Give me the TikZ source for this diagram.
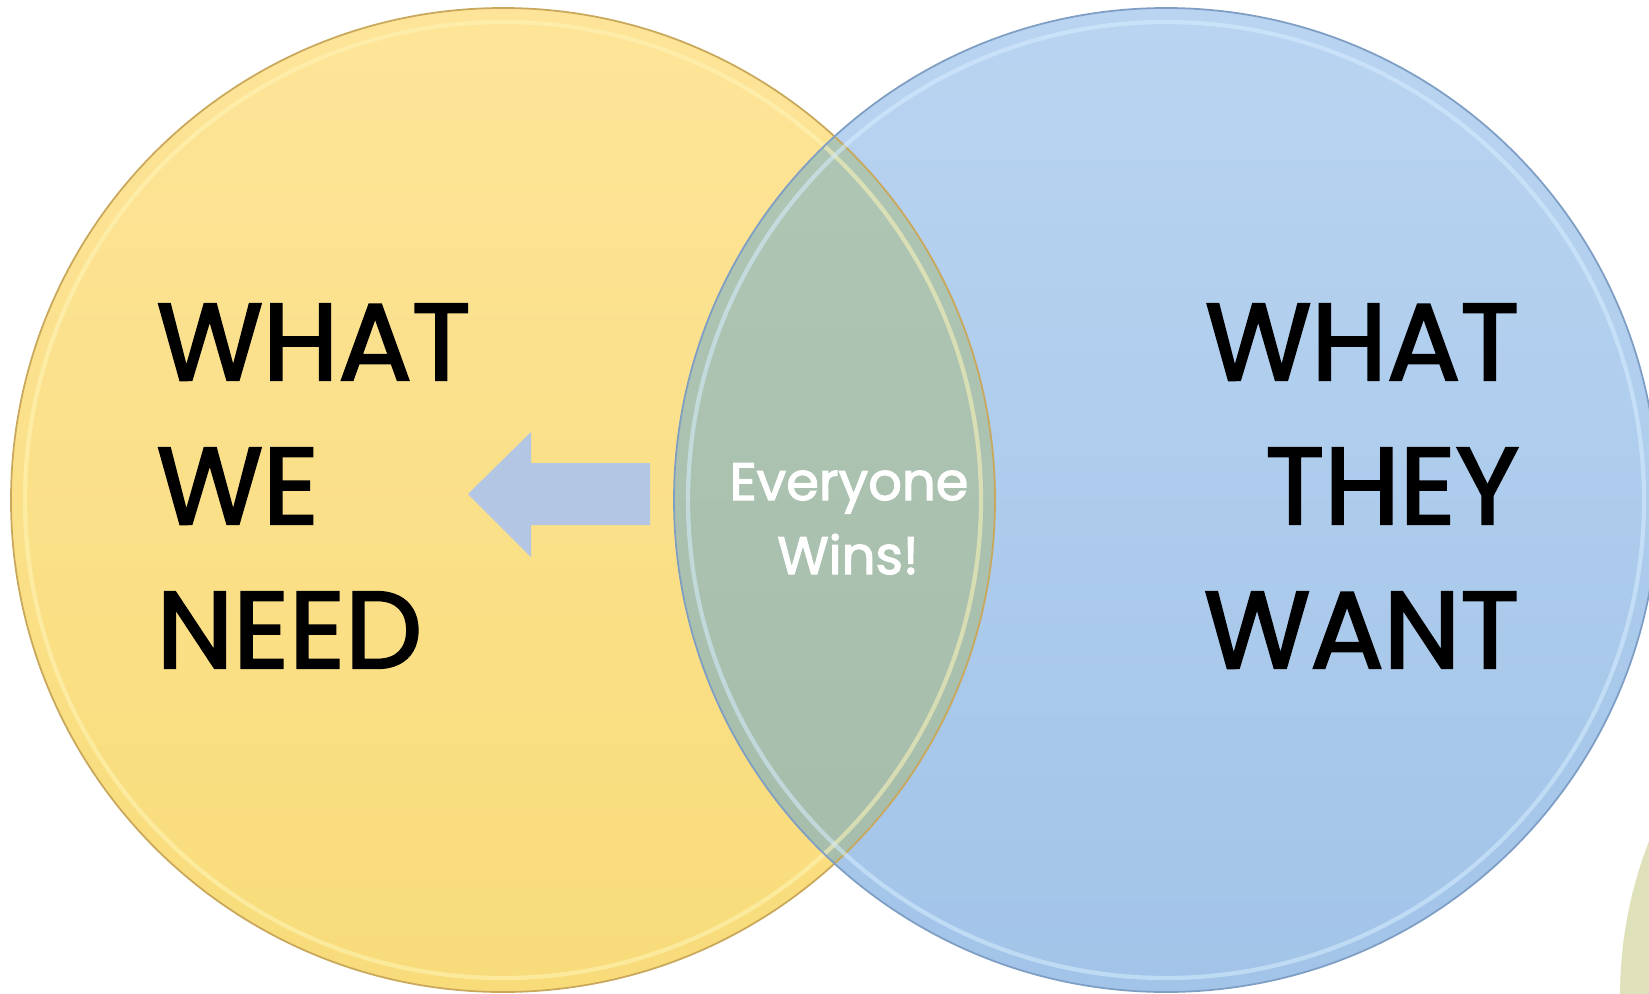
\documentclass[tikz,border=0pt]{standalone}
\usepackage{fontspec}
\setmainfont{Poppins}
\newfontfamily\handfont[FakeBold=2.2]{Poppins}
\usepackage{tikz}
\usetikzlibrary{positioning}

\definecolor{needtop}{HTML}{FDE498}
\definecolor{needbot}{HTML}{F8DC7A}
\definecolor{wanttop}{HTML}{B9D4F1}
\definecolor{wantbot}{HTML}{A2C4E8}
\definecolor{wintop}{HTML}{B0C7B6}
\definecolor{winbot}{HTML}{A5BCAA}
\definecolor{needrim}{HTML}{C9A85C}
\definecolor{wantrim}{HTML}{7F9EC4}
\definecolor{needgloss}{HTML}{FFF6B8}
\definecolor{wantgloss}{HTML}{D6EEFF}
\definecolor{arrowblue}{HTML}{B3C7E5}
\definecolor{thirdgreen}{HTML}{DEE1B9}

\begin{document}
\begin{tikzpicture}[
    big/.style={font=\handfont\fontsize{31}{36}\selectfont, text=black, inner sep=0pt},
    small/.style={font=\handfont\fontsize{15}{20}\selectfont, text=white, inner sep=0pt, anchor=base},
    rim/.style={line width=0.5pt},
    gloss/.style={line width=1.2pt, opacity=0.55}
]
\useasboundingbox (0,0) rectangle (16.49,-9.93);
\clip (0,0) rectangle (16.49,-9.93);
% circles
\fill[thirdgreen] (20.46,-9.96) circle (4.26);
\shade[top color=needtop, bottom color=needbot] (5.03,-5.00) circle (4.92);
\shade[top color=wanttop, bottom color=wantbot] (11.66,-5.00) circle (4.92);
\begin{scope}
    \clip (5.03,-5.00) circle (4.92);
    \shade[top color=wintop, bottom color=winbot] (11.66,-5.00) circle (4.92);
\end{scope}
\draw[rim, draw=needrim] (5.03,-5.00) circle (4.92);
\draw[gloss, draw=needgloss] (5.03,-5.00) circle (4.78);
\draw[rim, draw=wantrim] (11.66,-5.00) circle (4.92);
\draw[gloss, draw=wantgloss] (11.66,-5.00) circle (4.78);
% arrow
\fill[arrowblue] (6.50,-4.63) -- (5.31,-4.63) -- (5.31,-4.32) -- (4.68,-4.94)
    -- (5.31,-5.57) -- (5.31,-5.25) -- (6.50,-5.25) -- cycle;
% texts
\foreach \w [count=\i] in {WHAT,WE,NEED}
    \node[big, anchor=base west] (need\i) at (1.56,{-3.80-1.44*(\i-1)}) {\w};
\foreach \w [count=\i] in {WHAT,THEY,WANT}
    \node[big, anchor=base east] (want\i) at (15.20,{-3.80-1.44*(\i-1)}) {\w};
\node[small] (win1) at (8.49,-5.00) {Everyone};
\node[small] (win2) at (8.48,-5.74) {Wins!};
\end{tikzpicture}
\end{document}
